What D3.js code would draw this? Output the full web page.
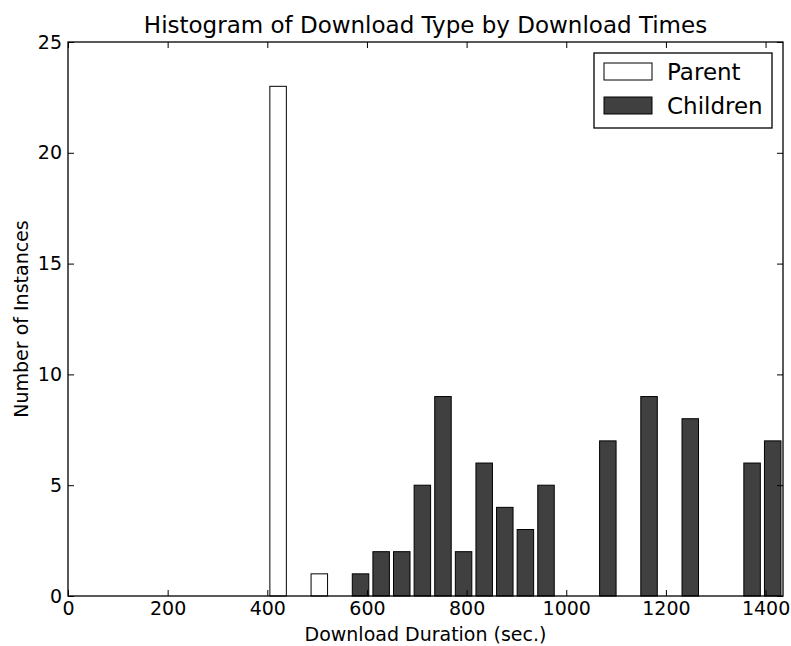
<!DOCTYPE html>
<html>
<head>
<meta charset="utf-8">
<script src="https://cdn.jsdelivr.net/npm/d3@7"></script>
<style>
    body { margin: 0; background: #fff; }
    text { font-family: "DejaVu Sans", sans-serif; fill: #000; }
</style>
</head>
<body>
<div id="my_dataviz"></div>
<script>
// histogram counts per bin (25 bins from histMin to histMax)
var histMin = 401;
var histMax = 1435;
var parentCounts   = [23, 0, 1, 0, 0, 0, 0, 0, 0, 0, 0, 0, 0, 0, 0, 0, 0, 0, 0, 0, 0, 0, 0, 0, 0];
var childrenCounts = [0, 0, 0, 0, 1, 2, 2, 5, 9, 2, 6, 4, 3, 5, 0, 0, 7, 0, 9, 0, 8, 0, 0, 6, 7];
var seriesNames = ["Parent", "Children"];
var seriesColours = ["#ffffff", "#404040"];
var xTicks = [0, 200, 400, 600, 800, 1000, 1200, 1400];
var yTicks = [0, 5, 10, 15, 20, 25];

function createGraph() {
    var margin = {top: 42, right: 8, bottom: 50, left: 68},
        width = 791 - margin.left - margin.right,
        height = 646 - margin.top - margin.bottom;

    var svg = d3.select("#my_dataviz")
        .append("svg")
        .attr("width", 791)
        .attr("height", 646);

    var g = svg.append("g")
        .attr("transform", "translate(" + margin.left + "," + margin.top + ")");

    var x = d3.scaleLinear().domain([0, histMax]).range([0, width]);
    var y = d3.scaleLinear().domain([0, 25]).range([height, 0]);

    // bins shared by both series
    var nBins = parentCounts.length;
    var binW = (histMax - histMin) / nBins;
    var bins = d3.range(nBins).map(function (i) {
        return {x0: histMin + i * binW, x1: histMin + (i + 1) * binW, i: i};
    });
    var rw = 0.8; // classic matplotlib relative bar width

    function barX(d) { return x(d.x0 + binW * (1 - rw) / 2); }
    var barW = x(binW * rw) - x(0);

    // stacked: children sit on top of parent counts
    var stacks = [
        bins.map(function (b) { return {b: b, lo: 0, hi: parentCounts[b.i]}; }),
        bins.map(function (b) { return {b: b, lo: parentCounts[b.i], hi: parentCounts[b.i] + childrenCounts[b.i]}; })
    ];

    stacks.forEach(function (s, k) {
        g.append("g").selectAll("rect")
            .data(s)
            .enter()
            .append("rect")
            .attr("x", function (d) { return barX(d.b); })
            .attr("width", barW)
            .attr("y", function (d) { return y(d.hi); })
            .attr("height", function (d) { return y(d.lo) - y(d.hi); })
            .style("fill", seriesColours[k])
            .style("stroke", "#000")
            .style("stroke-width", 1);
    });

    // ticks inside on all four sides (classic style)
    var tl = 6;
    var fmt = d3.format("d");
    var axB = g.append("g").attr("transform", "translate(0," + height + ")")
        .call(d3.axisBottom(x).tickValues(xTicks).tickSizeInner(-tl).tickSizeOuter(0).tickPadding(6).tickFormat(fmt));
    var axT = g.append("g")
        .call(d3.axisTop(x).tickValues(xTicks).tickSizeInner(-tl).tickSizeOuter(0).tickFormat(""));
    var axL = g.append("g")
        .call(d3.axisLeft(y).tickValues(yTicks).tickSizeInner(-tl).tickSizeOuter(0).tickPadding(6).tickFormat(fmt));
    var axR = g.append("g").attr("transform", "translate(" + width + ",0)")
        .call(d3.axisRight(y).tickValues(yTicks).tickSizeInner(-tl).tickSizeOuter(0).tickFormat(""));

    [axB, axT, axL, axR].forEach(function (a) {
        a.select(".domain").remove();
        a.selectAll("line").style("stroke", "#000").style("stroke-width", 1);
        a.selectAll("text").style("font-size", "19px").style("font-family", "DejaVu Sans");
    });

    // frame
    g.append("rect")
        .attr("width", width)
        .attr("height", height)
        .style("fill", "none")
        .style("stroke", "#000")
        .style("stroke-width", 1.3);

    // title + labels
    svg.append("text")
        .attr("x", margin.left + width / 2)
        .attr("y", 33)
        .attr("text-anchor", "middle")
        .style("font-size", "23px")
        .text("Histogram of Download Type by Download Times");

    svg.append("text")
        .attr("x", margin.left + width / 2)
        .attr("y", 641)
        .attr("text-anchor", "middle")
        .style("font-size", "19px")
        .text("Download Duration (sec.)");

    svg.append("text")
        .attr("transform", "translate(28," + (margin.top + height / 2) + ") rotate(-90)")
        .attr("text-anchor", "middle")
        .style("font-size", "19px")
        .text("Number of Instances");

    // legend
    var lg = svg.append("g").attr("transform", "translate(594,53)");
    lg.append("rect")
        .attr("width", 178)
        .attr("height", 75)
        .style("fill", "#fff")
        .style("stroke", "#000")
        .style("stroke-width", 1.3);
    seriesNames.forEach(function (name, k) {
        lg.append("rect")
            .attr("x", 10)
            .attr("y", 10 + k * 34)
            .attr("width", 48)
            .attr("height", 17)
            .style("fill", seriesColours[k])
            .style("stroke", "#000")
            .style("stroke-width", 1);
        lg.append("text")
            .attr("x", 73)
            .attr("y", 27 + k * 34)
            .style("font-size", "23px")
            .text(name);
    });
}

createGraph();
</script>
</body>
</html>
